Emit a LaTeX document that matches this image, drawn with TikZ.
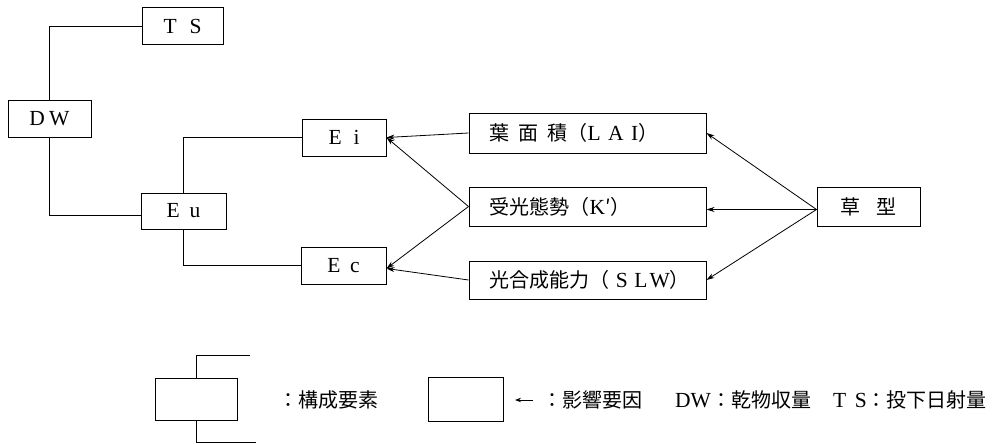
\documentclass[tikz,border=0pt]{standalone}
\usepackage{fontspec}
\setmainfont{Liberation Serif}
\newfontfamily\cjk{Noto Sans CJK JP}
\newcommand\cj[1]{{\fontsize{20}{24}\selectfont\cjk #1}}
\usetikzlibrary{arrows.meta}
\begin{document}
\begin{tikzpicture}[x=1pt,y=-1pt,
  box/.style={draw, line width=1pt, inner sep=0pt, font=\fontsize{21.5}{24}\selectfont},
  link/.style={line width=0.8pt},
  arr/.style={line width=0.8pt, -{Stealth[length=8pt,width=5pt]}},
  lbl/.style={anchor=west, inner sep=0pt, font=\fontsize{21.5}{24}\selectfont}
  ]
\fill[white] (0,0) rectangle (1001,444);
\useasboundingbox (0,0) rectangle (1001,444);
% component boxes
\node[box, minimum width=81pt, minimum height=37pt] (TS) at (182.5,26.5) {T\hspace{0.6em}S};
\node[box, minimum width=83pt, minimum height=37pt] (DW) at (49.5,118.5) {D\hspace{0.2em}W};
\node[box, minimum width=85pt, minimum height=36pt] (Eu) at (183.5,211) {E\hspace{0.45em}u};
\node[box, minimum width=84pt, minimum height=37pt] (Ei) at (344,137.5) {E\hspace{0.55em}i};
\node[box, minimum width=85pt, minimum height=37pt] (Ec) at (343.5,265.5) {E\hspace{0.45em}c};
% factor boxes
\node[box, minimum width=237pt, minimum height=40pt] (LAI) at (587.5,133)
  {\makebox[196pt][l]{\cj{葉\hspace{0.45em}面\hspace{0.45em}積（}L\hspace{0.35em}A\hspace{0.35em}I\cj{）}}};
\node[box, minimum width=237pt, minimum height=39pt] (K) at (587.5,206.5)
  {\makebox[196pt][l]{\cj{受光態勢（}K\cj{′）}}};
\node[box, minimum width=237pt, minimum height=38pt] (SLW) at (587.5,280)
  {\makebox[196pt][l]{\cj{光合成能力（}\hspace{0.3em}S\hspace{0.3em}L\hspace{0.1em}W\cj{）}}};
\node[box, minimum width=103pt, minimum height=39pt] (G) at (868.5,206.5)
  {\cj{草\hspace{0.8em}型}};
% tree links
\draw[link] (DW.north) |- (TS.west);
\draw[link] (DW.south) |- ([yshift=-4pt]Eu.west);
\draw[link] (Eu.north) |- (Ei.west);
\draw[link] (Eu.south) |- (Ec.west);
% influence arrows
\draw[arr] (LAI.west) -- (Ei.east);
\draw[arr] (K.west) -- (Ei.east);
\draw[arr] (K.west) -- ([yshift=-3pt]Ec.east);
\draw[arr] (SLW.west) -- ([yshift=-3pt]Ec.east);
\draw[arr] ([yshift=-3pt]G.west) -- (LAI.east);
\draw[arr] ([yshift=-3pt]G.west) -- ([yshift=-3pt]K.east);
\draw[arr] ([yshift=-3pt]G.west) -- (SLW.east);
% legend
\node[box, minimum width=82pt, minimum height=42pt] (LB) at (196,399) {};
\coordinate (lt) at (250,355);
\coordinate (lb) at (256,442);
\draw[link] (LB.north) |- (lt);
\draw[link] (LB.south) |- (lb);
\node[lbl] (t1) at (278,400) {\cj{：構成要素}};
\node[box, minimum width=75pt, minimum height=44pt] (LF) at (465.5,399) {};
\coordinate (la1) at (533,400);
\coordinate (la2) at (515,400);
\draw[line width=1pt, -{Stealth[length=6pt,width=4.5pt]}] (la1) -- (la2);
\node[lbl] (t2) at (542,400) {\cj{：影響要因}};
\node[lbl] (t3) at (675,400) {DW\cj{：乾物収量}};
\node[lbl] (t4) at (833,400) {T\hspace{0.4em}S\cj{：投下日射量}};
\end{tikzpicture}
\end{document}
